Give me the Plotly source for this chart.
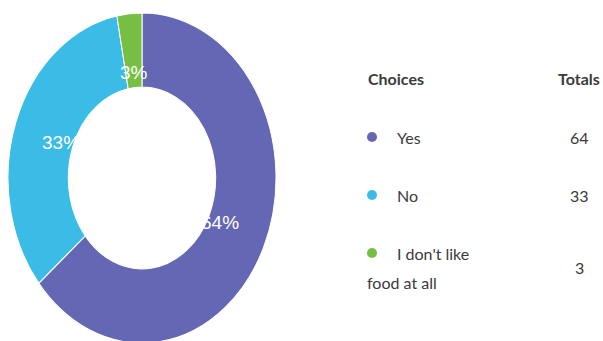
import numpy as np
import plotly.graph_objects as go

# ---- data ----
choices = ["Yes", "No", "I don't like food at all"]
totals = [64, 33, 3]
legend_lines = [["Yes"], ["No"], ["I don't like", "food at all"]]
colors = ["#6467b3", "#3bbce6", "#77bf44"]
header_choice = "Choices"
header_total = "Totals"

W, H = 603, 341
cx, cy = 142, 178          # donut centre (px)
rx = 134                   # horizontal outer radius (px)
stretch = 1.232            # vertical stretch of the donut
ry = rx * stretch
hole = 0.55

fig = go.Figure()

fig.add_trace(go.Pie(
    labels=choices, values=totals, sort=False, direction="clockwise", rotation=0,
    hole=hole, marker=dict(colors=colors, line=dict(color="white", width=1)),
    textinfo="none", hoverinfo="label+value+percent", showlegend=False,
    domain=dict(x=[(cx - rx) / W, (cx + rx) / W],
                y=[1 - (cy + rx) / H, 1 - (cy - rx) / H]),
))

# percentage labels computed from the values
vals = np.array(totals, dtype=float)
frac = vals / vals.sum()
start = np.concatenate([[0], np.cumsum(frac)[:-1]])
mid = (start + frac / 2) * 2 * np.pi
rlab = 0.64
annotations = []
for f, a in zip(frac, mid):
    annotations.append(dict(
        x=cx + np.sin(a) * rlab * rx, y=cy - np.cos(a) * rlab * ry,
        xref="x", yref="y", text=f"{round(f * 100)}%", showarrow=False,
        font=dict(family="Liberation Sans, Arial", size=19, color="white"),
    ))

# legend table
txt_color = "#3a3a3a"
font_main = "Lato, Noto Sans, sans-serif"
annotations.append(dict(x=366, y=78, xref="x", yref="y", xanchor="left",
                        text=f"<b>{header_choice}</b>", showarrow=False,
                        font=dict(family=font_main, size=16, color=txt_color)))
annotations.append(dict(x=579, y=78, xref="x", yref="y", xanchor="center",
                        text=f"<b>{header_total}</b>", showarrow=False,
                        font=dict(family=font_main, size=16, color=txt_color)))
row_y = [137, 195, 253]
line_gap = 29
dot_x, dot_y = [], []
for lines, tot, y in zip(legend_lines, totals, row_y):
    dot_x.append(372)
    dot_y.append(y)
    annotations.append(dict(x=395, y=y, xref="x", yref="y", xanchor="left",
                            text=lines[0], showarrow=False,
                            font=dict(family=font_main, size=16, color=txt_color)))
    for k, extra in enumerate(lines[1:], start=1):
        annotations.append(dict(x=365, y=y + k * line_gap, xref="x", yref="y",
                                xanchor="left", text=extra, showarrow=False,
                                font=dict(family=font_main, size=16, color=txt_color)))
    ty = y + (len(lines) - 1) * line_gap / 2
    annotations.append(dict(x=579, y=ty, xref="x", yref="y", xanchor="center",
                            text=str(tot), showarrow=False,
                            font=dict(family=font_main, size=16, color=txt_color)))

fig.add_trace(go.Scatter(x=dot_x, y=dot_y, mode="markers",
                         marker=dict(size=10, color=colors), showlegend=False,
                         hoverinfo="skip"))

fig.update_layout(
    width=W, height=H, margin=dict(l=0, r=0, t=0, b=0),
    paper_bgcolor="white", plot_bgcolor="white",
    xaxis=dict(range=[0, W], visible=False, fixedrange=True),
    yaxis=dict(range=[H, 0], visible=False, fixedrange=True),
    annotations=annotations, showlegend=False,
)

js = """
var gd = document.getElementById('{plot_id}');
function stretchPie(){
  gd.querySelectorAll('.pielayer g.trace').forEach(function(t){
    t.setAttribute('transform', 'translate(0,%CY%) scale(1,%K%) translate(0,-%CY%)');
  });
}
stretchPie();
gd.on('plotly_afterplot', stretchPie);
""".replace("%CY%", str(cy)).replace("%K%", str(stretch))

fig.write_html("out.html", post_script=js)
